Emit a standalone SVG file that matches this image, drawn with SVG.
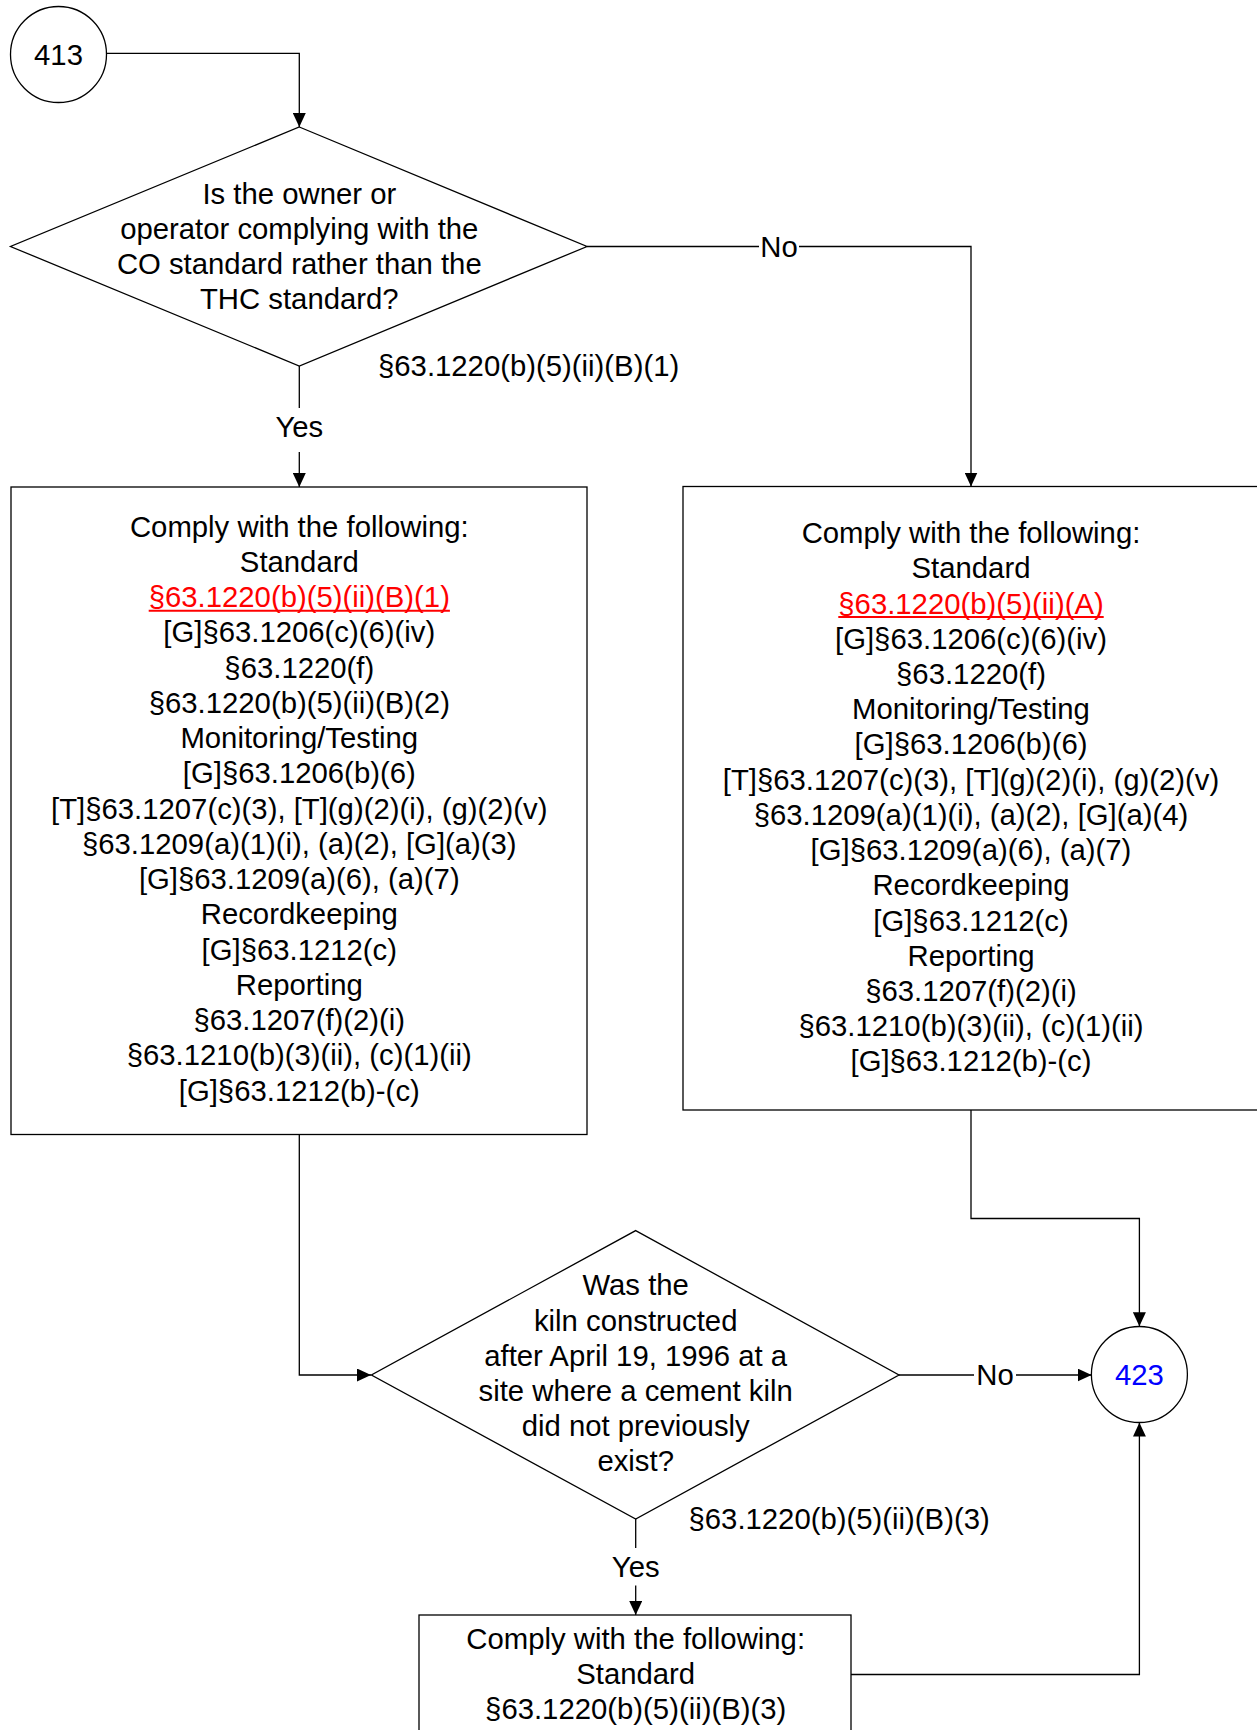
<svg xmlns="http://www.w3.org/2000/svg" width="1257" height="1730" viewBox="0 0 1257 1730">
<defs>
<style>
text{font-family:"Liberation Sans",Arial,sans-serif;font-size:29.3px;fill:#000}
.c{text-anchor:middle}
.shape{fill:#fff;stroke:#000;stroke-width:1.3}
.conn{fill:none;stroke:#000;stroke-width:1.3}
.red{fill:#f00}
.uline{stroke:#f00;stroke-width:2}
.blue{fill:#00f}
</style>
<marker id="arr" markerUnits="userSpaceOnUse" markerWidth="14" markerHeight="13" refX="14" refY="6.5" orient="auto">
<path d="M0,0 L14,6.5 L0,13 z" fill="#000"/>
</marker>
</defs>
<rect width="1257" height="1730" fill="#fff"/>

<g id="connectors">
<path class="conn" d="M106.5,53.3 H299.3 V127" marker-end="url(#arr)"/>
<path class="conn" d="M299.3,366 V408"/>
<path class="conn" d="M299.3,452 V487" marker-end="url(#arr)"/>
<path class="conn" d="M587,246.5 H759"/>
<path class="conn" d="M799,246.5 H971 V486.5" marker-end="url(#arr)"/>
<path class="conn" d="M299.3,1134.5 V1375 H371" marker-end="url(#arr)"/>
<path class="conn" d="M971,1110 V1218.5 H1139.4 V1326.3" marker-end="url(#arr)"/>
<path class="conn" d="M899,1375 H974"/>
<path class="conn" d="M1016,1375 H1091.6" marker-end="url(#arr)"/>
<path class="conn" d="M635.7,1519 V1548"/>
<path class="conn" d="M635.7,1585.5 V1615" marker-end="url(#arr)"/>
<path class="conn" d="M851,1674.5 H1139.4 V1422.6" marker-end="url(#arr)"/>
<text x="299.3" y="437" class="c">Yes</text>
<text x="779" y="256.5" class="c">No</text>
<text x="378" y="375.5">§63.1220(b)(5)(ii)(B)(1)</text>
<text x="995" y="1385.3" class="c">No</text>
<text x="635.7" y="1576.5" class="c">Yes</text>
<text x="688.5" y="1529">§63.1220(b)(5)(ii)(B)(3)</text>
</g>

<g id="n413">
<circle class="shape" cx="58.5" cy="54.5" r="48"/>
<text x="58.5" y="64.8" class="c">413</text>
</g>

<g id="d1">
<polygon class="shape" points="299.3,127 587,246.5 299.3,366 10.5,246.5"/>
<text x="299.3" y="203.5" class="c">Is the owner or</text>
<text x="299.3" y="238.5" class="c">operator complying with the</text>
<text x="299.3" y="273.5" class="c">CO standard rather than the</text>
<text x="299.3" y="308.5" class="c">THC standard?</text>
</g>

<g id="boxL">
<rect class="shape" x="11" y="487" width="576" height="647.5"/>
<text x="299.3" y="536.7" class="c">Comply with the following:</text>
<text x="299.3" y="571.9" class="c">Standard</text>
<text x="299.3" y="607.2" class="c red">§63.1220(b)(5)(ii)(B)(1)</text>
<line class="uline" x1="148.7" y1="610.8" x2="449.9" y2="610.8"/>
<text x="299.3" y="642.4" class="c">[G]§63.1206(c)(6)(iv)</text>
<text x="299.3" y="677.7" class="c">§63.1220(f)</text>
<text x="299.3" y="712.9" class="c">§63.1220(b)(5)(ii)(B)(2)</text>
<text x="299.3" y="748.2" class="c">Monitoring/Testing</text>
<text x="299.3" y="783.4" class="c">[G]§63.1206(b)(6)</text>
<text x="299.3" y="818.7" class="c">[T]§63.1207(c)(3), [T](g)(2)(i), (g)(2)(v)</text>
<text x="299.3" y="853.9" class="c">§63.1209(a)(1)(i), (a)(2), [G](a)(3)</text>
<text x="299.3" y="889.2" class="c">[G]§63.1209(a)(6), (a)(7)</text>
<text x="299.3" y="924.4" class="c">Recordkeeping</text>
<text x="299.3" y="959.7" class="c">[G]§63.1212(c)</text>
<text x="299.3" y="994.9" class="c">Reporting</text>
<text x="299.3" y="1030.2" class="c">§63.1207(f)(2)(i)</text>
<text x="299.3" y="1065.4" class="c">§63.1210(b)(3)(ii), (c)(1)(ii)</text>
<text x="299.3" y="1100.7" class="c">[G]§63.1212(b)-(c)</text>
</g>

<g id="boxR">
<rect class="shape" x="683" y="486.5" width="577" height="623.5"/>
<text x="971" y="543" class="c">Comply with the following:</text>
<text x="971" y="578.2" class="c">Standard</text>
<text x="971" y="613.5" class="c red">§63.1220(b)(5)(ii)(A)</text>
<line class="uline" x1="838.3" y1="617.1" x2="1103.7" y2="617.1"/>
<text x="971" y="648.7" class="c">[G]§63.1206(c)(6)(iv)</text>
<text x="971" y="683.9" class="c">§63.1220(f)</text>
<text x="971" y="719.2" class="c">Monitoring/Testing</text>
<text x="971" y="754.4" class="c">[G]§63.1206(b)(6)</text>
<text x="971" y="789.6" class="c">[T]§63.1207(c)(3), [T](g)(2)(i), (g)(2)(v)</text>
<text x="971" y="824.8" class="c">§63.1209(a)(1)(i), (a)(2), [G](a)(4)</text>
<text x="971" y="860.1" class="c">[G]§63.1209(a)(6), (a)(7)</text>
<text x="971" y="895.3" class="c">Recordkeeping</text>
<text x="971" y="930.5" class="c">[G]§63.1212(c)</text>
<text x="971" y="965.8" class="c">Reporting</text>
<text x="971" y="1001" class="c">§63.1207(f)(2)(i)</text>
<text x="971" y="1036.2" class="c">§63.1210(b)(3)(ii), (c)(1)(ii)</text>
<text x="971" y="1071.4" class="c">[G]§63.1212(b)-(c)</text>
</g>

<g id="d2">
<polygon class="shape" points="635.7,1230.6 899,1375 635.7,1519 371.4,1375"/>
<text x="635.7" y="1295.3" class="c">Was the</text>
<text x="635.7" y="1330.5" class="c">kiln constructed</text>
<text x="635.7" y="1365.7" class="c">after April 19, 1996 at a</text>
<text x="635.7" y="1400.9" class="c">site where a cement kiln</text>
<text x="635.7" y="1436.1" class="c">did not previously</text>
<text x="635.7" y="1471.3" class="c">exist?</text>
</g>

<g id="n423">
<circle class="shape" cx="1139.4" cy="1374.5" r="48"/>
<text x="1139.4" y="1385" class="c blue">423</text>
</g>

<g id="boxB">
<rect class="shape" x="419" y="1615" width="432" height="130"/>
<text x="635.7" y="1648.5" class="c">Comply with the following:</text>
<text x="635.7" y="1683.7" class="c">Standard</text>
<text x="635.7" y="1718.9" class="c">§63.1220(b)(5)(ii)(B)(3)</text>
</g>
</svg>
